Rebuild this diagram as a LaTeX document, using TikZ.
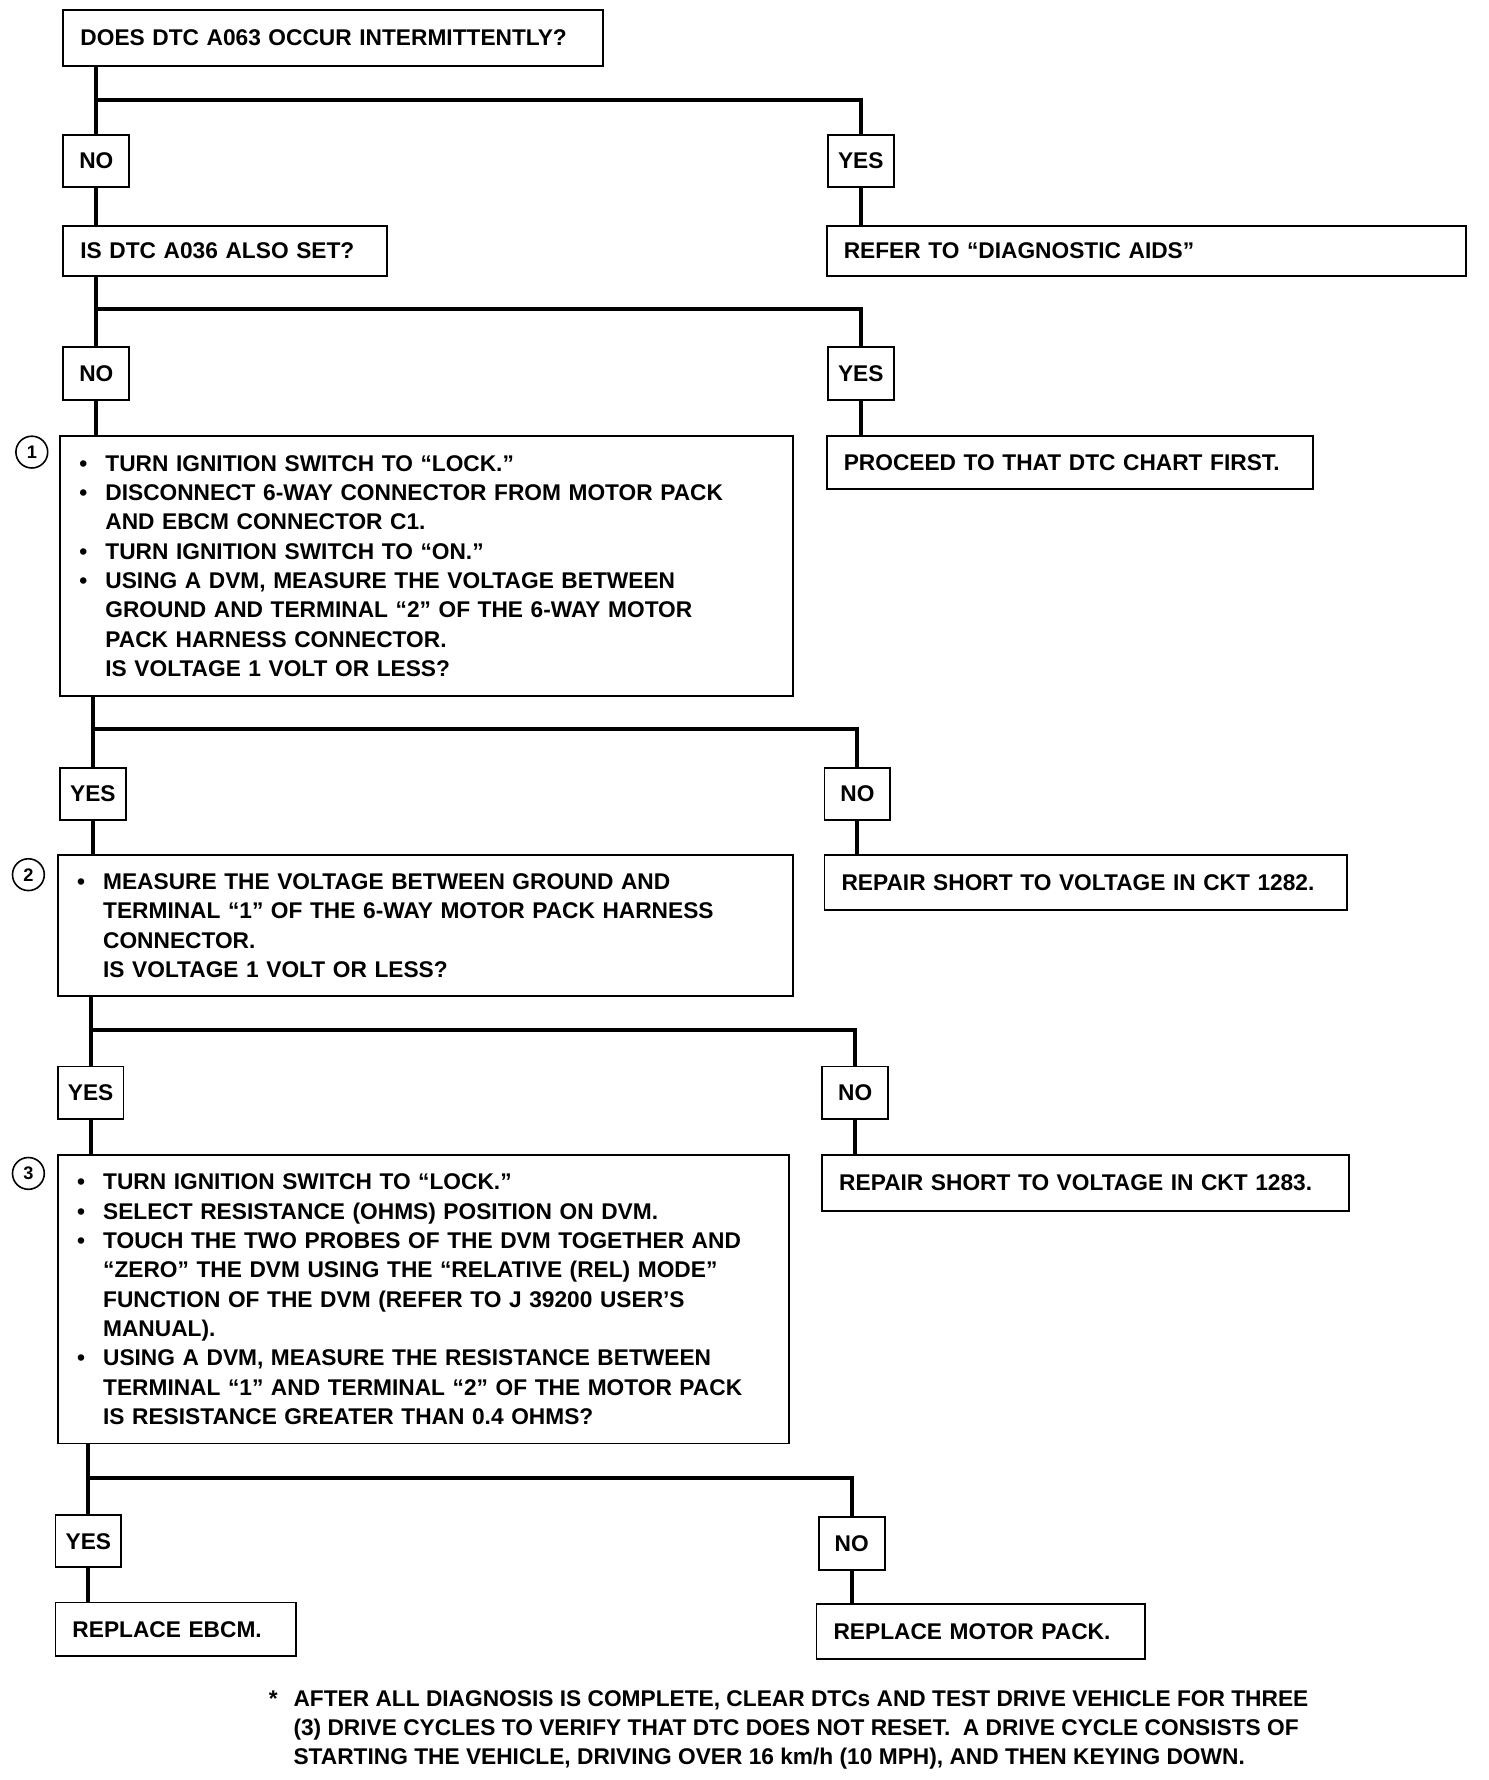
\documentclass[tikz,border=0pt]{standalone}
\usepackage{fontspec}
\setmainfont{Liberation Sans}
\usetikzlibrary{positioning}
\tikzset{
    %Define style for question and result boxes
    qbox/.style={
             rectangle, anchor=north west,
             draw=black, line width=0.8pt,
             inner xsep=7.5pt, inner ysep=0pt, align=left,
             font=\fontsize{10}{12.9}\selectfont\bfseries},
    stepbox/.style={
             qbox,
             inner xsep=20pt},
    ansbox/.style={
             rectangle, anchor=north west,
             draw=black, line width=0.8pt,
             minimum width=29pt, minimum height=23pt, inner sep=0pt,
             font=\fontsize{10}{12.9}\selectfont\bfseries},
    numnode/.style={
             circle, draw=black, line width=0.7pt,
             minimum size=14pt, inner sep=0pt,
             font=\fontsize{8}{8}\selectfont\bfseries},
    notenode/.style={
             anchor=north west, inner sep=0pt, align=left,
             font=\fontsize{10}{12.75}\selectfont\bfseries},
    % Define connector style
    flowline/.style={
            line width=1.7pt}
}
\newcommand{\itm}{\leavevmode\llap{\textbullet\hspace{8pt}}}

\begin{document}
\begin{tikzpicture}[x=0.5pt, y=-0.5pt]
 \useasboundingbox (0,0) rectangle (1310,1567);
 % questions and steps
 \node[qbox, text width=222.5pt, minimum height=24.5pt] (intermit) at (55,8) {DOES DTC A063 OCCUR INTERMITTENTLY?};
 \node[ansbox] (no1) at (55,118) {NO};
 \node[ansbox] (yes1) at (728,118) {YES};
 \node[qbox, text width=127.5pt, minimum height=22pt] (also) at (55,198) {IS DTC A036 ALSO SET?};
 \node[qbox, text width=266.5pt, minimum height=22pt] (aids) at (727,198) {REFER TO ``DIAGNOSTIC AIDS''};
 \node[ansbox] (no2) at (55,305) {NO};
 \node[ansbox] (yes2) at (728,305) {YES};
 \node[stepbox, text width=282.5pt, minimum height=114.5pt] (step1) at (52,383) {%
   \itm TURN IGNITION SWITCH TO ``LOCK.''\\
   \itm DISCONNECT 6-WAY CONNECTOR FROM MOTOR PACK\\
   AND EBCM CONNECTOR C1.\\
   \itm TURN IGNITION SWITCH TO ``ON.''\\
   \itm USING A DVM, MEASURE THE VOLTAGE BETWEEN\\
   GROUND AND TERMINAL ``2'' OF THE 6-WAY MOTOR\\
   PACK HARNESS CONNECTOR.\\
   IS VOLTAGE 1 VOLT OR LESS?};
 \node[qbox, text width=199pt, minimum height=23.5pt] (first) at (727,383) {PROCEED TO THAT DTC CHART FIRST.};
 \node[ansbox] (yes3) at (52,675) {YES};
 \node[ansbox] (no3) at (725,675) {NO};
 \node[stepbox, text width=283.5pt, minimum height=62pt] (step2) at (50,752) {%
   \itm MEASURE THE VOLTAGE BETWEEN GROUND AND\\
   TERMINAL ``1'' OF THE 6-WAY MOTOR PACK HARNESS\\
   CONNECTOR.\\
   IS VOLTAGE 1 VOLT OR LESS?};
 \node[qbox, text width=215pt, minimum height=24pt] (ckt82) at (725,752) {REPAIR SHORT TO VOLTAGE IN CKT 1282.};
 \node[ansbox] (yes4) at (50,938) {YES};
 \node[ansbox] (no4) at (723,938) {NO};
 \node[stepbox, text width=282pt, minimum height=127pt] (step3) at (50,1016) {%
   \itm TURN IGNITION SWITCH TO ``LOCK.''\\
   \itm SELECT RESISTANCE (OHMS) POSITION ON DVM.\\
   \itm TOUCH THE TWO PROBES OF THE DVM TOGETHER AND\\
   ``ZERO'' THE DVM USING THE ``RELATIVE (REL) MODE''\\
   FUNCTION OF THE DVM (REFER TO J 39200 USER'S\\
   MANUAL).\\
   \itm USING A DVM, MEASURE THE RESISTANCE BETWEEN\\
   TERMINAL ``1'' AND TERMINAL ``2'' OF THE MOTOR PACK\\
   IS RESISTANCE GREATER THAN 0.4 OHMS?};
 \node[qbox, text width=217pt, minimum height=24.5pt] (ckt83) at (723,1016) {REPAIR SHORT TO VOLTAGE IN CKT 1283.};
 \node[ansbox] (yes5) at (48,1333) {YES};
 \node[ansbox] (no5) at (720,1335) {NO};
 \node[qbox, text width=91pt, minimum height=23.5pt] (ebcm) at (48,1410) {REPLACE EBCM.};
 \node[qbox, text width=129.5pt, minimum height=24.5pt] (motor) at (718,1411) {REPLACE MOTOR PACK.};
 % step numbers
 \node[numnode] (num1) at (28,398) {1};
 \node[numnode] (num2) at (25,770) {2};
 \node[numnode] (num3) at (25,1033) {3};
 % footnote
 \node[notenode] (note) at (258,1488) {\llap{*\hspace{7pt}}AFTER ALL DIAGNOSIS IS COMPLETE, CLEAR DTCs AND TEST DRIVE VEHICLE FOR THREE\\
   (3) DRIVE CYCLES TO VERIFY THAT DTC DOES NOT RESET.\ \ A DRIVE CYCLE CONSISTS OF\\
   STARTING THE VEHICLE, DRIVING OVER 16 km/h (10 MPH), AND THEN KEYING DOWN.};
 % branch points
 \coordinate (split1) at (0,88);
 \coordinate (split2) at (0,272);
 \coordinate (split3) at (0,642);
 \coordinate (split4) at (0,907);
 \coordinate (split5) at (0,1301);
 % connectors
 \draw[flowline] (intermit.south -| no1) -- (no1);
 \draw[flowline] (split1 -| no1) -| (yes1);
 \draw[flowline] (no1) -- (no1 |- also.north);
 \draw[flowline] (yes1) -- (yes1 |- aids.north);
 \draw[flowline] (also.south -| no2) -- (no2);
 \draw[flowline] (split2 -| no2) -| (yes2);
 \draw[flowline] (no2) -- (no2 |- step1.north);
 \draw[flowline] (yes2) -- (yes2 |- first.north);
 \draw[flowline] (step1.south -| yes3) -- (yes3);
 \draw[flowline] (split3 -| yes3) -| (no3);
 \draw[flowline] (yes3) -- (yes3 |- step2.north);
 \draw[flowline] (no3) -- (no3 |- ckt82.north);
 \draw[flowline] (step2.south -| yes4) -- (yes4);
 \draw[flowline] (split4 -| yes4) -| (no4);
 \draw[flowline] (yes4) -- (yes4 |- step3.north);
 \draw[flowline] (no4) -- (no4 |- ckt83.north);
 \draw[flowline] (step3.south -| yes5) -- (yes5);
 \draw[flowline] (split5 -| yes5) -| (no5);
 \draw[flowline] (yes5) -- (yes5 |- ebcm.north);
 \draw[flowline] (no5) -- (no5 |- motor.north);
\end{tikzpicture}
\end{document}
